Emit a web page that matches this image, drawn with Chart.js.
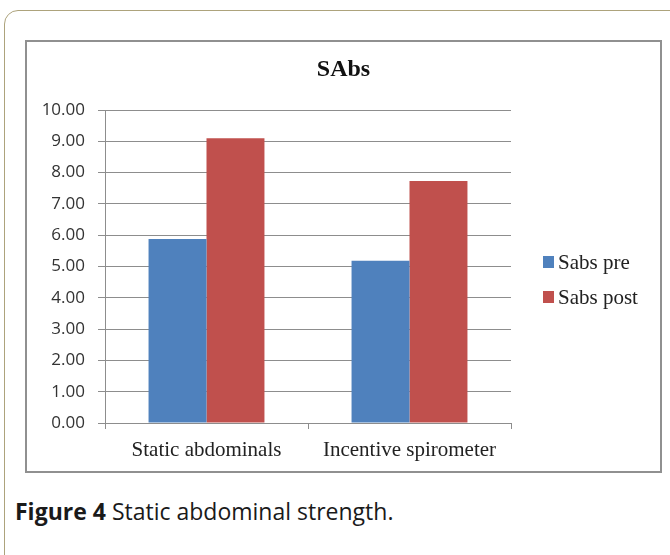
<!DOCTYPE html>
<html>
<head>
<meta charset="utf-8">
<script src="https://cdn.jsdelivr.net/npm/chart.js@4.4.1/dist/chart.umd.min.js"></script>
<style>
  html, body { margin: 0; padding: 0; background: #fff; width: 670px; height: 555px; overflow: hidden; }
  #frame { position: absolute; left: 4px; top: 10px; width: 720px; height: 640px; border: 1.5px solid #ada37c; border-radius: 14px; box-sizing: border-box; }
  #box { position: absolute; left: 25px; top: 40px; width: 637px; height: 433px; border: 2px solid #909090; box-sizing: border-box; background: #fff; }
  #wrap { position: absolute; left: 27px; top: 42px; width: 633px; height: 429px; }
  #caption { position: absolute; left: 15px; top: 496px; font-family: "Open Sans", sans-serif; font-size: 23px; line-height: 30px; color: #1a1a1a; white-space: nowrap; }
  #caption b { font-weight: 700; }
</style>
</head>
<body>
<div id="frame"></div>
<div id="box"></div>
<div id="wrap"><canvas id="c" width="633" height="429"></canvas></div>
<div id="caption"><b>Figure 4</b> Static abdominal strength.</div>
<script>
const chartTitle = "SAbs";
const categories = ["Static abdominals", "Incentive spirometer"];
const seriesNames = ["Sabs pre", "Sabs post"];
const sabsPre = [5.88, 5.18];
const sabsPost = [9.10, 7.73];
const yMin = 0, yMax = 10, yStep = 1;

const titleAndLegendPlugin = {
  id: 'titleAndLegend',
  afterDraw(chart) {
    const ctx = chart.ctx;
    const ca = chart.chartArea;
    ctx.save();
    // title, centred on the whole chart box
    ctx.fillStyle = '#111';
    ctx.font = 'bold 24px "Liberation Serif", serif';
    ctx.textAlign = 'center';
    ctx.textBaseline = 'middle';
    ctx.fillText(chartTitle, chart.width / 2, 28);
    // legend
    const x0 = ca.right + 32;
    const yc0 = (ca.top + ca.bottom) / 2 - 4.5;
    chart.data.datasets.forEach((ds, i) => {
      const yc = yc0 + i * 35;
      ctx.fillStyle = ds.backgroundColor;
      ctx.fillRect(x0, yc - 6, 11, 12);
      ctx.fillStyle = '#222';
      ctx.font = '21px "Liberation Serif", serif';
      ctx.textBaseline = 'middle';
      ctx.textAlign = 'left';
      ctx.fillText(ds.label, x0 + 15, yc + 1);
    });
    ctx.restore();
  }
};

const gridColor = '#8d8d8d';

new Chart(document.getElementById('c'), {
  type: 'bar',
  data: {
    labels: categories,
    datasets: [
      { label: seriesNames[0], data: sabsPre, backgroundColor: '#4f81bd', borderWidth: 0 },
      { label: seriesNames[1], data: sabsPost, backgroundColor: '#c0504d', borderWidth: 0 }
    ]
  },
  options: {
    responsive: false,
    animation: false,
    devicePixelRatio: 1,
    layout: { padding: { left: 0, right: 149, top: 68, bottom: 8 } },
    datasets: { bar: { categoryPercentage: 0.571, barPercentage: 1.0 } },
    plugins: {
      legend: { display: false },
      tooltip: { enabled: false },
      title: { display: false }
    },
    scales: {
      x: {
        offset: true,
        grid: { display: true, drawOnChartArea: false, drawTicks: true, tickLength: 6, color: gridColor, lineWidth: 1 },
        border: { display: true, color: gridColor, width: 1 },
        ticks: { color: '#222', padding: 9, font: { family: '"Liberation Serif", serif', size: 21, lineHeight: 1.2 }, maxRotation: 0 },
        afterFit: (s) => { s.height = 40; }
      },
      y: {
        min: yMin, max: yMax,
        grid: { color: gridColor, lineWidth: 1, drawTicks: true, tickLength: 7 },
        border: { display: true, color: gridColor, width: 1 },
        ticks: {
          stepSize: yStep, color: '#333', padding: 13,
          font: { family: '"Open Sans", sans-serif', size: 17 },
          callback: (v) => Number(v).toFixed(2)
        },
        afterFit: (s) => { s.width = 78; }
      }
    }
  },
  plugins: [titleAndLegendPlugin]
});
</script>
</body>
</html>
